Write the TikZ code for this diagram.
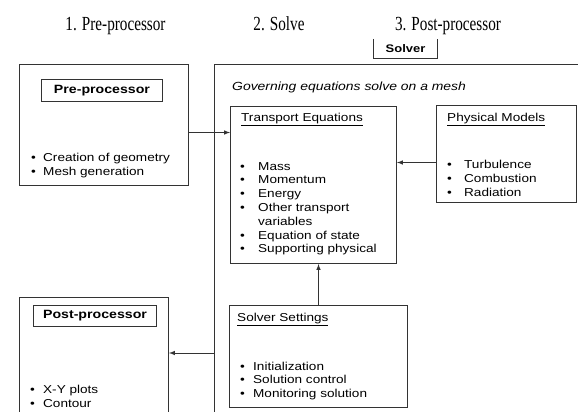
\documentclass[tikz,border=0pt]{standalone}
\usepackage{fontspec}
\setmainfont[FakeStretch=1.18]{Liberation Sans}
\newfontfamily\stepfont{Liberation Serif}
\usepackage{tikz}

\newcommand{\bul}[1]{\makebox[#1][l]{\textbullet}}

\begin{document}
\begin{tikzpicture}[x=1pt,y=-1pt,
    panel/.style={draw=black!80,line width=1pt,inner sep=0pt,anchor=north west},
    tagbox/.style={panel,font=\bfseries\fontsize{12}{14}\selectfont},
    item/.style={anchor=base west,inner sep=0pt,font=\fontsize{11.5}{14}\selectfont},
    steplabel/.style={anchor=base,inner sep=0pt,font=\stepfont\fontsize{20}{22}\selectfont},
    link/.style={line width=1pt,draw=black!80,-latex}]
        \useasboundingbox (0,0) rectangle (578,412);
        \clip (0,0) rectangle (578,412);% boxes run off the page
        % the three steps
        \node[steplabel] (s1) at (115.5,31) {\scalebox{0.76}[1]{1. Pre-processor}};
        \node[steplabel] (s2) at (279,31) {\scalebox{0.76}[1]{2. Solve}};
        \node[steplabel] (s3) at (448,31) {\scalebox{0.76}[1]{3. Post-processor}};
        % pre-processor
        \node[panel,minimum width=169pt,minimum height=121pt] (pre) at (19,64) {};
        \node[tagbox,minimum width=121pt,minimum height=22pt] (pretag) at (41,79) {Pre-processor};
        \foreach \t [count=\i from 0] in {\bul{12pt}Creation of geometry,\bul{12pt}Mesh generation}
            \node[item] (pre\i) at (31,161+14*\i) {\t};
        % solver
        \node[panel,minimum width=420pt,minimum height=400pt] (solver) at (214,64) {};
        \node[inner sep=0pt,minimum width=63pt,minimum height=19pt,font=\bfseries\fontsize{11}{13}\selectfont] (solvertag) at (405.5,48.5) {Solver};
        \draw[black!80,line width=1pt] (solvertag.north west) -- (solvertag.south west) -- (solvertag.south east) -- (solvertag.north east);
        \node[item,font=\itshape\fontsize{11.8}{14}\selectfont] (gov) at (232,90) {Governing equations solve on a mesh};
        % transport equations
        \node[panel,minimum width=166pt,minimum height=157pt] (trans) at (230,106) {};
        \node[item] (transtitle) at (241,121) {\underline{Transport Equations}};
        \foreach \t [count=\i from 0] in {\bul{18pt}Mass,\bul{18pt}Momentum,\bul{18pt}Energy,\bul{18pt}Other transport,\hspace*{18pt}variables,\bul{18pt}Equation of state,\bul{18pt}Supporting physical}
            \node[item] (te\i) at (240,170+13.8*\i) {\t};
        % physical models
        \node[panel,minimum width=140pt,minimum height=97pt] (phys) at (436,105) {};
        \node[item] (phystitle) at (447,121) {\underline{Physical Models}};
        \foreach \t [count=\i from 0] in {\bul{17pt}Turbulence,\bul{17pt}Combustion,\bul{17pt}Radiation}
            \node[item] (pm\i) at (447,168+14*\i) {\t};
        % solver settings
        \node[panel,minimum width=178pt,minimum height=102pt] (set) at (229,305) {};
        \node[item] (settitle) at (237,321) {\underline{Solver Settings}};
        \foreach \t [count=\i from 0] in {\bul{13pt}Initialization,\bul{13pt}Solution control,\bul{13pt}Monitoring solution}
            \node[item] (ss\i) at (240,370+13.5*\i) {\t};
        % post-processor
        \node[panel,minimum width=149pt,minimum height=150pt] (post) at (19,297) {};
        \node[tagbox,minimum width=123pt,minimum height=21pt] (posttag) at (33,305) {Post-processor};
        \foreach \t [count=\i from 0] in {\bul{13pt}X-Y plots,\bul{13pt}Contour}
            \node[item] (pp\i) at (30,393+14*\i) {\t};
        % connectors
        \coordinate (prearr) at ([yshift=-7.5pt]pre.east);
        \coordinate (physarr) at ([yshift=-8.5pt]phys.west);
        \coordinate (postarr) at (214,353);
        \draw[link] (prearr) -- (prearr -| trans.west);
        \draw[link] (physarr) -- (physarr -| trans.east);
        \draw[link] (set.north) -- (set.north |- trans.south);
        \draw[link] (postarr) -- (postarr -| post.east);
    \end{tikzpicture}
\end{document}
